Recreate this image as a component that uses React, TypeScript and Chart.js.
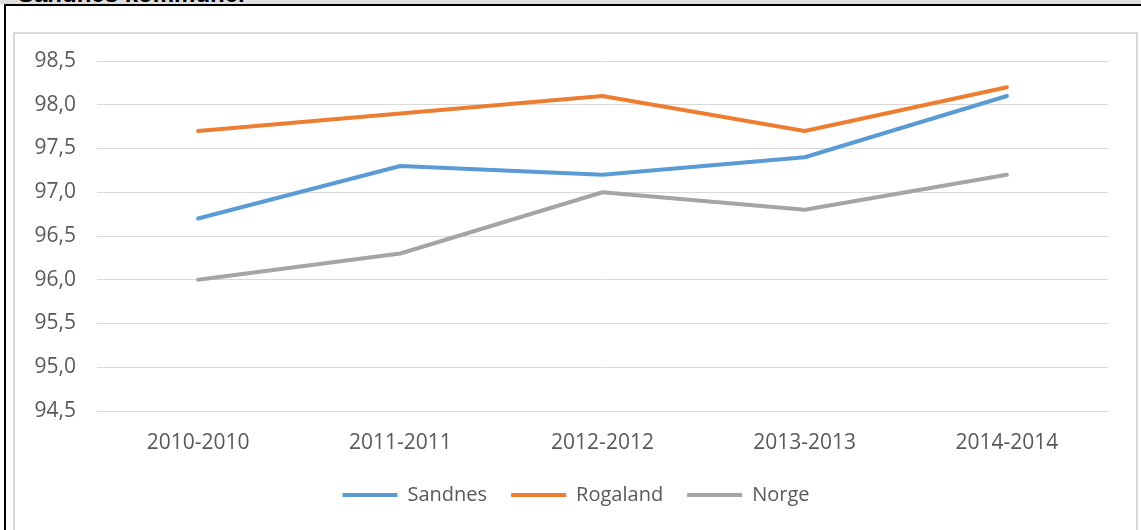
import React, { useEffect, useRef } from "react";
import { Chart, registerables } from "chart.js";

Chart.register(...registerables);

const categories = ["2010-2010", "2011-2011", "2012-2012", "2013-2013", "2014-2014"];
const sandnes = [96.7, 97.3, 97.2, 97.4, 98.1];
const rogaland = [97.7, 97.9, 98.1, 97.7, 98.2];
const norge = [96.0, 96.3, 97.0, 96.8, 97.2];
const seriesNames = ["Sandnes", "Rogaland", "Norge"];
const seriesColors = ["#5B9BD5", "#ED7D31", "#A5A5A5"];
const yMin = 94.5;
const yMax = 98.5;
const yStep = 0.5;

const FONT = "'Open Sans', 'Noto Sans', sans-serif";

const legendShift = {
  id: "legendShift",
  afterLayout(chart: any) {
    if (chart.legend) {
      chart.legend.left += 6;
      chart.legend.right += 6;
    }
  },
};

export default function App() {
  const ref = useRef<HTMLCanvasElement | null>(null);

  useEffect(() => {
    if (!ref.current) return;
    const values = [sandnes, rogaland, norge];
    const chart = new Chart(ref.current, {
      type: "line",
      data: {
        labels: categories,
        datasets: values.map((v, i) => ({
          label: seriesNames[i],
          data: v,
          borderColor: seriesColors[i],
          backgroundColor: seriesColors[i],
          borderWidth: 4,
          borderCapStyle: "round" as const,
          borderJoinStyle: "round" as const,
          pointRadius: 0,
          pointHoverRadius: 0,
          pointStyle: "line" as const,
          tension: 0,
          fill: false,
        })),
      },
      plugins: [legendShift],
      options: {
        animation: false,
        responsive: false,
        maintainAspectRatio: false,
        layout: { padding: { left: 17, right: 28, top: 0, bottom: 15 } },
        plugins: {
          tooltip: { enabled: false },
          legend: {
            position: "bottom",
            labels: {
              usePointStyle: true,
              pointStyleWidth: 55,
              boxHeight: 4,
              padding: 24,
              color: "#595959",
              font: { family: FONT, size: 20 },
            },
          },
        },
        scales: {
          x: {
            offset: true,
            grid: { display: false, drawTicks: false, offset: true },
            border: { display: false },
            ticks: {
              color: "#595959",
              font: { family: FONT, size: 21 },
              padding: 19,
              maxRotation: 0,
            },
            afterFit: (scale: any) => {
              scale.height = 50;
            },
          },
          y: {
            min: yMin,
            max: yMax,
            grid: { color: "#d9d9d9", lineWidth: 1, drawTicks: false },
            border: { display: false },
            ticks: {
              stepSize: yStep,
              color: "#595959",
              font: { family: FONT, size: 21 },
              padding: 21,
              callback: (v: any) => Number(v).toFixed(1).replace(".", ","),
            },
            afterFit: (scale: any) => {
              scale.width = 65;
              scale.paddingTop = 27;
            },
          },
        },
      },
    });
    return () => chart.destroy();
  }, []);

  return (
    <div style={{ position: "fixed", left: 0, top: 0, width: 1141, height: 530, overflow: "hidden", background: "#ffffff" }}>
      <div style={{ position: "absolute", left: 0, top: 0, width: 1141, height: 4, background: "#dedede", overflow: "hidden" }}>
        <div style={{ position: "absolute", left: 18, top: -18, fontFamily: "'Liberation Sans', Arial, sans-serif", fontWeight: "bold", fontSize: 24, lineHeight: "24px", color: "#000", whiteSpace: "nowrap" }}>
          Sandnes kommune.
        </div>
      </div>
      <div style={{ position: "absolute", left: 4, top: 4, width: 1200, height: 600, borderTop: "2px solid #000", borderLeft: "2px solid #000", boxSizing: "border-box" }} />
      <div style={{ position: "absolute", left: 13, top: 32, width: 1125, height: 600, border: "2px solid #d9d9d9", boxSizing: "border-box" }} />
      <canvas ref={ref} width={1121} height={496} style={{ position: "absolute", left: 15, top: 34, width: 1121, height: 496 }} />
    </div>
  );
}
